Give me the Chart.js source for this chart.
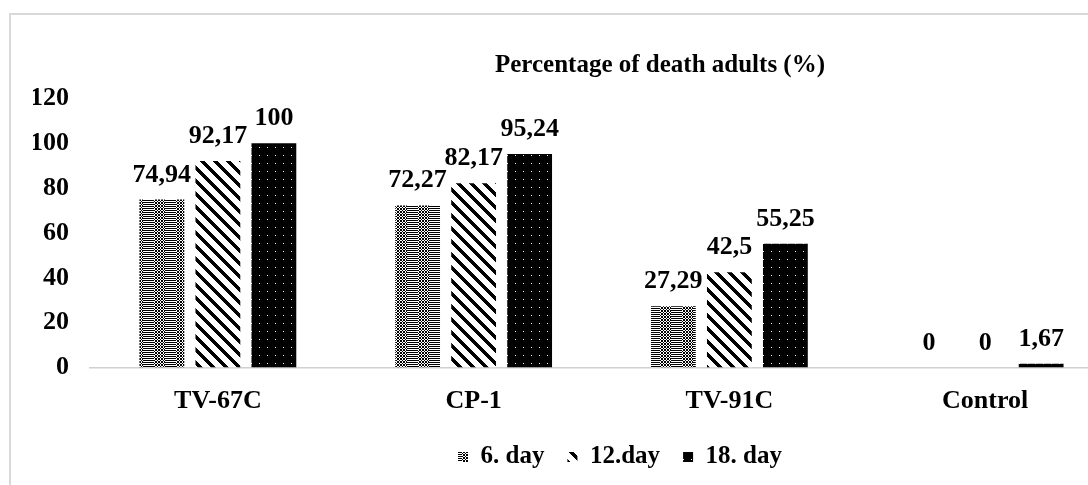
<!DOCTYPE html>
<html>
<head>
<meta charset="utf-8">
<script src="https://cdn.jsdelivr.net/npm/chart.js@4.4.1/dist/chart.umd.min.js"></script>
<style>
  html, body { margin: 0; padding: 0; background: #fff; overflow: hidden; width: 1088px; height: 485px; }
  #frame { position: absolute; left: 9px; top: 13px; width: 1200px; height: 600px;
           border-top: 2px solid #d9d9d9; border-left: 2px solid #d9d9d9; }
  #chart { position: absolute; left: 0; top: 0; }
</style>
</head>
<body>
<div id="frame"></div>
<canvas id="chart" width="1140" height="485"></canvas>
<script>
// values
const categories = ['TV-67C', 'CP-1', 'TV-91C', 'Control'];
const seriesNames = ['6. day', '12.day', '18. day'];
const day6 = [74.94, 72.27, 27.29, 0];
const day12 = [92.17, 82.17, 42.5, 0];
const day18 = [100, 95.24, 55.25, 1.67];
const yTicks = [0, 20, 40, 60, 80, 100, 120];

const FONT = '"Liberation Serif", "Times New Roman", serif';
const canvas = document.getElementById('chart');
const ctx = canvas.getContext('2d');

// small tiles used as bar fills
function makePattern(w, h, draw) {
  const c = document.createElement('canvas');
  c.width = w; c.height = h;
  const g = c.getContext('2d');
  g.fillStyle = '#fff';
  g.fillRect(0, 0, w, h);
  draw(g);
  return ctx.createPattern(c, 'repeat');
}

// checker diamonds next to horizontal lines
const fill6 = makePattern(22, 12, (g) => {
  g.fillStyle = '#000';
  for (let y = 0; y < 12; y++) {
    for (let x = 0; x < 22; x++) {
      const on = x < 11 ? (x + y) % 3 === 0 || (x - y + 30) % 3 === 0 : y % 2 === 0;
      if (on) g.fillRect(x, y, 1, 1);
    }
  }
});

// wide downward diagonal
const fill12 = makePattern(13, 13, (g) => {
  g.fillStyle = '#000';
  for (let y = 0; y < 13; y++) {
    for (let x = 0; x < 13; x++) {
      if ((((x - y) % 13) + 13) % 13 < 5) g.fillRect(x, y, 1, 1);
    }
  }
});

// black with small white dots
const fill18 = makePattern(8, 8, (g) => {
  g.fillStyle = '#000';
  g.fillRect(0, 0, 8, 8);
  g.fillStyle = '#fff';
  g.fillRect(3, 3, 1, 1);
});

// value labels above the bars, decimal comma
const valueLabels = {
  id: 'valueLabels',
  afterDatasetsDraw(chart) {
    const c = chart.ctx;
    c.save();
    c.font = 'bold 26px ' + FONT;
    c.fillStyle = '#000';
    c.textAlign = 'center';
    c.textBaseline = 'alphabetic';
    chart.data.datasets.forEach((ds, i) => {
      chart.getDatasetMeta(i).data.forEach((bar, j) => {
        c.fillText(String(ds.data[j]).replace('.', ','), bar.x, bar.y - 18);
      });
    });
    c.restore();
  }
};

// title and legend are not centred on the same point in the reference
function centreBox(box, cx) {
  if (!box) return;
  const d = cx - (box.left + box.right) / 2;
  box.left += d;
  box.right += d;
}
const placeBoxes = {
  id: 'placeBoxes',
  afterLayout(chart) {
    centreBox(chart.titleBlock, 660);
    centreBox(chart.legend, 620);
  }
};

new Chart(ctx, {
  type: 'bar',
  data: {
    labels: categories,
    datasets: [
      { label: seriesNames[0], data: day6, backgroundColor: fill6, borderWidth: 0 },
      { label: seriesNames[1], data: day12, backgroundColor: fill12, borderWidth: 0 },
      { label: seriesNames[2], data: day18, backgroundColor: fill18, borderWidth: 0 }
    ]
  },
  options: {
    responsive: false,
    animation: false,
    categoryPercentage: 0.657,
    barPercentage: 0.8,
    layout: { padding: { left: 33, right: 27, top: 0, bottom: 5.5 } },
    plugins: {
      title: {
        display: true,
        text: 'Percentage of death adults (%)',
        color: '#000',
        font: { family: FONT, size: 25, weight: 'bold' },
        padding: { top: 51, bottom: 17.5 }
      },
      legend: {
        position: 'bottom',
        labels: {
          color: '#000',
          font: { family: FONT, size: 25, weight: 'bold' },
          boxWidth: 10,
          boxHeight: 10,
          padding: 23
        }
      },
      tooltip: { enabled: false }
    },
    scales: {
      x: {
        grid: { display: false, drawTicks: false },
        border: { display: true, color: '#d0d0d0', width: 1.5 },
        ticks: { color: '#000', padding: 18.4, font: { family: FONT, size: 26, weight: 'bold' } },
        afterFit(scale) { scale.height = 54; }
      },
      y: {
        min: yTicks[0],
        max: yTicks[yTicks.length - 1],
        grid: { display: false, drawTicks: false },
        border: { display: false },
        afterBuildTicks(scale) { scale.ticks = yTicks.map(v => ({ value: v })); },
        ticks: { color: '#000', padding: 21, font: { family: FONT, size: 26, weight: 'bold' } },
        afterFit(scale) { scale.width = 57; }
      }
    }
  },
  plugins: [valueLabels, placeBoxes]
});
</script>
</body>
</html>
